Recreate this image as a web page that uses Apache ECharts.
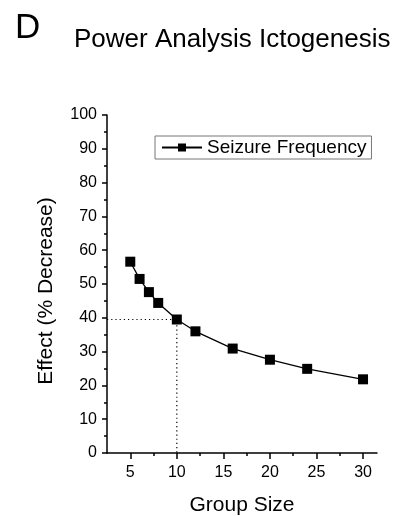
<!DOCTYPE html>
<html>
<head>
<meta charset="utf-8">
<script src="https://cdn.jsdelivr.net/npm/echarts@6/dist/echarts.min.js"></script>
<style>html,body{margin:0;padding:0;background:#fff;}#c{width:402px;height:516px;}</style>
</head>
<body>
<div id="c"></div>
<script>
// Data
var groupSize = [5, 6, 7, 8, 10, 12, 16, 20, 24, 30];
var effect = [56.6, 51.5, 47.6, 44.4, 39.5, 36.0, 30.9, 27.6, 24.9, 21.8];
var xMajorTicks = [5, 10, 15, 20, 25, 30];
var xMinorTicks = [7.5, 12.5, 17.5, 22.5, 27.5];
var refX = 10;
var refY = 39.5;
var seriesName = 'Seizure Frequency';

var FONT = '"Liberation Sans", Arial, Helvetica, sans-serif';
var chart = echarts.init(document.getElementById('c'), null, {renderer: 'canvas'});
var xMin = 2.5, xMax = 31.5;

var mainData = groupSize.map(function (g, i) { return [g, effect[i]]; });
var refData = [[xMin, refY], [refX, refY], [refX, 0]];

chart.setOption({
  backgroundColor: '#fff',
  animation: false,
  title: [
    {text: 'D', left: 15, top: 11, padding: 0,
     textStyle: {fontFamily: FONT, fontSize: 35, fontWeight: 'normal', color: '#000'}},
    {text: 'Power Analysis Ictogenesis', left: 74, top: 27, padding: 0,
     textStyle: {fontFamily: FONT, fontSize: 26, fontWeight: 'normal', color: '#000'}}
  ],
  legend: {
    data: [seriesName],
    left: 155, top: 136,
    padding: [2, 5, 2, 6],
    itemWidth: 40, itemHeight: 10,
    borderColor: '#777', borderWidth: 1,
    textStyle: {fontFamily: FONT, fontSize: 19, color: '#000'}
  },
  grid: {left: 107, right: 25, top: 115, bottom: 63, containLabel: false, outerBoundsMode: 'none'},
  xAxis: [
    {
      type: 'value', min: xMin, max: xMax,
      name: 'Group Size', nameLocation: 'middle', nameGap: 42,
      nameTextStyle: {fontFamily: FONT, fontSize: 21, color: '#000'},
      axisLine: {show: true, onZero: false, lineStyle: {color: '#000', width: 1.5}},
      axisTick: {show: true, inside: false, length: 6, customValues: xMajorTicks, lineStyle: {color: '#000', width: 1.5}},
      axisLabel: {show: true, margin: 12, customValues: xMajorTicks, fontFamily: FONT, fontSize: 16, color: '#000'},
      splitLine: {show: false}
    },
    {
      type: 'value', min: xMin, max: xMax, position: 'bottom',
      axisLine: {show: false, onZero: false},
      axisTick: {show: true, inside: false, length: 3, customValues: xMinorTicks, lineStyle: {color: '#000', width: 1.5}},
      axisLabel: {show: false},
      splitLine: {show: false}
    }
  ],
  yAxis: {
    type: 'value', min: 0, max: 100, interval: 10,
    name: 'Effect (% Decrease)', nameLocation: 'middle', nameGap: 50,
    nameTextStyle: {fontFamily: FONT, fontSize: 21, color: '#000', padding: [0, 14, 0, 0]},
    axisLine: {show: true, lineStyle: {color: '#000', width: 1.5}},
    axisTick: {show: true, inside: false, length: 5, lineStyle: {color: '#000', width: 1.5}},
    minorTick: {show: true, splitNumber: 2, length: 3, lineStyle: {color: '#000', width: 1.5}},
    axisLabel: {margin: 10, fontFamily: FONT, fontSize: 16, color: '#000'},
    splitLine: {show: false}
  },
  series: [
    {
      name: 'ref', type: 'line', data: refData, xAxisIndex: 0,
      symbol: 'none', silent: true,
      lineStyle: {color: '#000', width: 1.2, type: [1.2, 3]}
    },
    {
      name: seriesName, type: 'line', data: mainData, xAxisIndex: 0,
      symbol: 'rect', symbolSize: 10, showAllSymbol: true,
      itemStyle: {color: '#000'},
      lineStyle: {color: '#000', width: 1.3}
    }
  ]
});
</script>
</body>
</html>
